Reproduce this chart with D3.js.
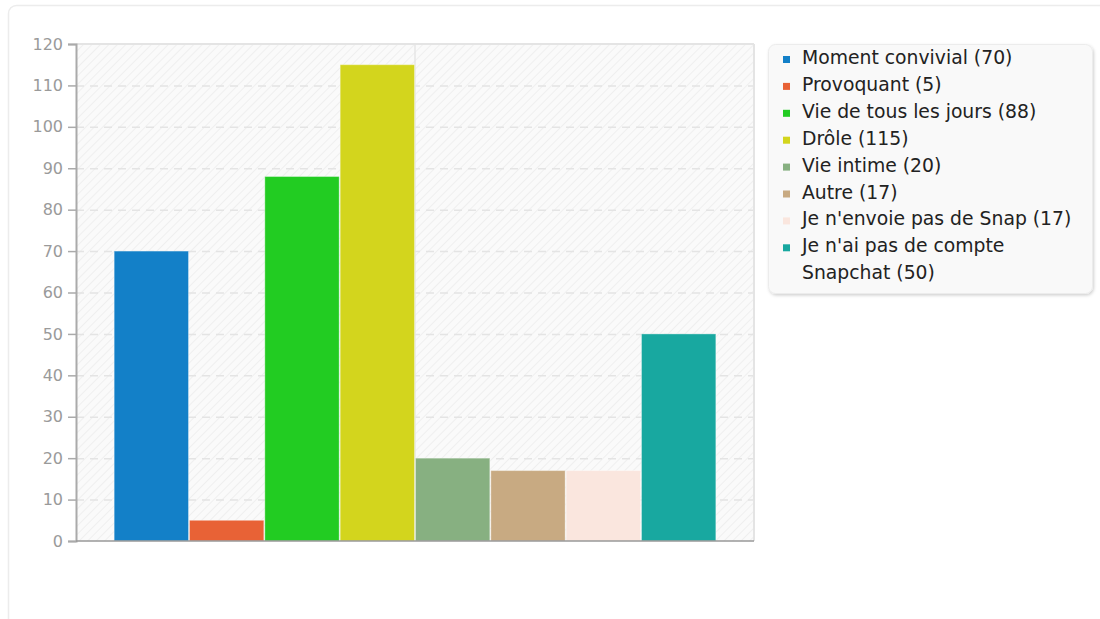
<!DOCTYPE html>
<html><head><meta charset="utf-8">
<script src="https://cdn.jsdelivr.net/npm/d3@7"></script>
<style>
html,body{margin:0;padding:0;background:#fff;}
svg{display:block;font-family:"DejaVu Sans",sans-serif;}
</style></head>
<body>
<svg id="chart" width="1100" height="619"></svg>
<script>
const categories = ["Moment convivial","Provoquant","Vie de tous les jours","Drôle","Vie intime","Autre","Je n'envoie pas de Snap","Je n'ai pas de compte Snapchat"];
const values = [70,5,88,115,20,17,17,50];
const colors = ["#1380c8","#e86236","#22cc22","#d3d51d","#87b081","#c8aa82","#fae6de","#18a8a0"];
const yTicks = [0,10,20,30,40,50,60,70,80,90,100,110,120];

const svg = d3.select("#chart");
const defs = svg.append("defs");
const pat = defs.append("pattern").attr("id","hatch").attr("patternUnits","userSpaceOnUse")
  .attr("width",6).attr("height",6).attr("patternTransform","rotate(45)");
pat.append("rect").attr("width",6).attr("height",6).attr("fill","#fafafa");
pat.append("line").attr("x1",0).attr("y1",0).attr("x2",0).attr("y2",6).attr("stroke","#efefef").attr("stroke-width",2);
const flt = defs.append("filter").attr("id","shadow").attr("x","-10%").attr("y","-10%").attr("width","130%").attr("height","130%");
flt.append("feDropShadow").attr("dx",1).attr("dy",1.5).attr("stdDeviation",1.5).attr("flood-color","#000").attr("flood-opacity",0.18);

// outer card
svg.append("rect").attr("x",8.5).attr("y",5.5).attr("width",1200).attr("height",700).attr("rx",8)
  .attr("fill","#fff").attr("stroke","#ececec").attr("stroke-width",1.5);

const L=76,R=754,T=44,B=541;
const x = d3.scaleBand().domain(categories).range([L,R]).paddingInner(0).paddingOuter(0.5);
const y = d3.scaleLinear().domain([0,120]).range([B,T]);

svg.append("rect").attr("x",L).attr("y",T).attr("width",R-L).attr("height",B-T).attr("fill","url(#hatch)");
// grid
svg.append("g").selectAll("line").data(yTicks.filter(d=>d>0&&d<120)).join("line")
  .attr("x1",L).attr("x2",R).attr("y1",d=>y(d)+0.5).attr("y2",d=>y(d)+0.5)
  .attr("stroke","#e4e4e4").attr("stroke-width",1.5).attr("stroke-dasharray","8,6");
svg.append("line").attr("x1",(L+R)/2).attr("x2",(L+R)/2).attr("y1",T).attr("y2",B).attr("stroke","#e6e6e6").attr("stroke-width",1.5);
svg.append("line").attr("x1",L).attr("x2",R).attr("y1",T).attr("y2",T).attr("stroke","#e4e4e4").attr("stroke-width",2);
svg.append("line").attr("x1",R).attr("x2",R).attr("y1",T).attr("y2",B).attr("stroke","#e4e4e4").attr("stroke-width",2);

// bars
svg.append("g").selectAll("rect").data(values).join("rect")
  .attr("x",(d,i)=>x(categories[i])+0.5).attr("width",x.bandwidth()-1)
  .attr("y",d=>y(d)).attr("height",d=>B-y(d))
  .attr("fill",(d,i)=>colors[i]).attr("stroke","rgba(255,255,255,0.35)").attr("stroke-width",1);

// y axis
const yAxis = d3.axisLeft(y).tickValues(yTicks).tickSize(8).tickPadding(5);
const gy = svg.append("g").attr("transform",`translate(${L},0)`).call(yAxis);
gy.select(".domain").attr("stroke","#aaa").attr("stroke-width",2);
gy.selectAll(".tick line").attr("stroke","#aaa").attr("stroke-width",1.5);
gy.selectAll(".tick text").attr("fill","#9a9a9a").attr("font-size","16px").attr("font-family","DejaVu Sans");
svg.append("line").attr("x1",L).attr("x2",R).attr("y1",B).attr("y2",B).attr("stroke","#999").attr("stroke-width",1.5);

// legend
const lg = svg.append("g");
lg.append("rect").attr("x",768.5).attr("y",44.5).attr("width",324).attr("height",249).attr("rx",7)
  .attr("fill","#f9f9f9").attr("stroke","#ececec").attr("filter","url(#shadow)");
let line = 0; const lh = 26.9, maxW = 282;
categories.forEach((c,i)=>{
  const base = 64 + line*lh;
  lg.append("rect").attr("x",783).attr("y",base-8).attr("width",7).attr("height",7).attr("fill",colors[i]);
  const t = lg.append("text").attr("x",802).attr("y",base).attr("font-size","18.8px").attr("fill","#222");
  const words = (c+" ("+values[i]+")").split(" ");
  let ts = t.append("tspan").attr("x",802); let cur=[];
  words.forEach(w=>{
    cur.push(w); ts.text(cur.join(" "));
    if (ts.node().getComputedTextLength()>maxW && cur.length>1){
      cur.pop(); ts.text(cur.join(" ")); cur=[w];
      line++;
      ts = t.append("tspan").attr("x",802).attr("dy",lh).text(w);
    }
  });
  line++;
});
</script>
</body></html>
